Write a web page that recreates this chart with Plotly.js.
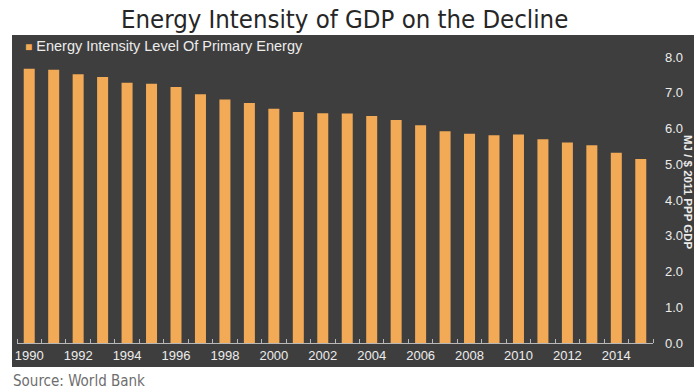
<!DOCTYPE html>
<html>
<head>
<meta charset="utf-8">
<script src="https://cdn.plot.ly/plotly-3.0.1.min.js"></script>
<style>
  html, body { margin: 0; padding: 0; background: #ffffff; }
  #chart { width: 694px; height: 392px; }
</style>
</head>
<body>
<div id="chart"></div>
<script>
// Energy intensity level of primary energy (MJ per $2011 PPP GDP), World Bank
const years = [1990, 1991, 1992, 1993, 1994, 1995, 1996, 1997, 1998, 1999,
               2000, 2001, 2002, 2003, 2004, 2005, 2006, 2007, 2008, 2009,
               2010, 2011, 2012, 2013, 2014, 2015];
const intensity = [7.67, 7.64, 7.52, 7.44, 7.28, 7.25, 7.16, 6.96, 6.81, 6.71,
                   6.55, 6.46, 6.43, 6.42, 6.35, 6.24, 6.09, 5.92, 5.85, 5.81,
                   5.83, 5.70, 5.61, 5.53, 5.32, 5.15];
const yearTicks = [1990, 1992, 1994, 1996, 1998, 2000, 2002, 2004, 2006, 2008, 2010, 2012, 2014];
const valueTicks = [0, 1, 2, 3, 4, 5, 6, 7, 8];
const seriesName = 'Energy Intensity Level Of Primary Energy';
const unitLabel = 'MJ / $ 2011 PPP GDP';

const barColor = '#f2aa56';
const panelColor = '#3e3e3e';
const inkLight = '#ececec';

const W = 694, H = 392;
const M = { l: 17, r: 41, t: 57, b: 49 };
const pw = W - M.l - M.r, ph = H - M.t - M.b;
// pixel -> paper helpers for elements placed outside the plot area
const px = x => (x - M.l) / pw;
const py = y => (H - M.b - y) / ph;

const trace = {
  type: 'bar',
  x: years,
  y: intensity,
  name: seriesName,
  marker: { color: barColor, line: { width: 0 } },
  hoverinfo: 'x+y'
};

const layout = {
  width: W, height: H,
  margin: M,
  paper_bgcolor: '#ffffff',
  plot_bgcolor: 'rgba(0,0,0,0)',
  showlegend: false,
  bargap: 0.55,
  font: { family: 'Liberation Sans, Arial, sans-serif', size: 13, color: inkLight },
  xaxis: {
    type: 'linear',
    range: [1989.5, 2015.5],
    tickmode: 'array',
    tickvals: yearTicks,
    ticktext: yearTicks.map(String),
    ticks: '',
    showgrid: false,
    zeroline: false,
    showline: true,
    linecolor: '#b8b8b8',
    linewidth: 1,
    tickfont: { size: 13, color: inkLight },
    minor: { tickmode: 'linear', tick0: 1989.5, dtick: 1, ticks: 'inside', ticklen: 4, tickcolor: '#b8b8b8', showgrid: false }
  },
  yaxis: {
    side: 'right',
    range: [0, 8],
    tickmode: 'array',
    tickvals: valueTicks,
    ticktext: valueTicks.map(v => v.toFixed(1)),
    ticks: '',
    ticklabelstandoff: 11,
    showgrid: false,
    zeroline: false,
    showline: false,
    tickfont: { size: 13, color: inkLight }
  },
  shapes: [{
    type: 'rect', xref: 'paper', yref: 'paper', layer: 'below',
    x0: px(12), x1: px(700), y0: py(367), y1: py(35),
    fillcolor: panelColor, line: { width: 0 }
  }],
  annotations: [
    {
      text: 'Energy Intensity of GDP on the Decline',
      xref: 'paper', yref: 'paper', x: px(344), y: py(19),
      xanchor: 'center', yanchor: 'middle', showarrow: false,
      font: { family: 'DejaVu Sans Condensed, DejaVu Sans, sans-serif', size: 25.5, color: '#262626' }
    },
    {
      text: '<span style="color:' + barColor + ';font-size:12px">■</span> ' + seriesName,
      xref: 'paper', yref: 'paper', x: px(23), y: py(46),
      xanchor: 'left', yanchor: 'middle', showarrow: false,
      font: { size: 14.5, color: inkLight }
    },
    {
      text: unitLabel,
      xref: 'paper', yref: 'paper', x: px(688), y: py(192),
      xanchor: 'center', yanchor: 'middle', showarrow: false, textangle: 90,
      font: { size: 11.5, color: inkLight, weight: 'bold' }
    },
    {
      text: 'Source: World Bank',
      xref: 'paper', yref: 'paper', x: px(11), y: py(381),
      xanchor: 'left', yanchor: 'middle', showarrow: false,
      font: { family: 'DejaVu Sans Condensed, DejaVu Sans, sans-serif', size: 15, color: '#6e6e6e' }
    }
  ]
};

Plotly.newPlot('chart', [trace], layout, { displayModeBar: false, staticPlot: true });
</script>
</body>
</html>
